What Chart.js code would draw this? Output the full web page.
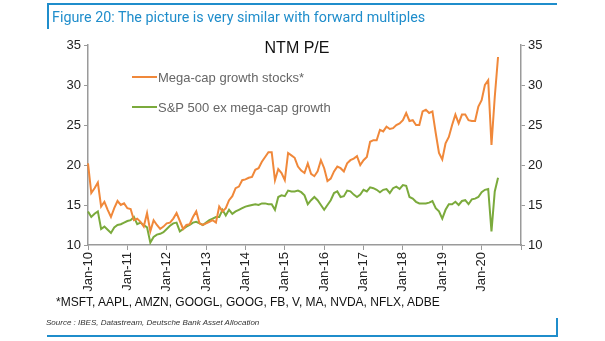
<!DOCTYPE html>
<html>
<head>
<meta charset="utf-8">
<script src="https://cdn.jsdelivr.net/npm/chart.js@4.4.1/dist/chart.umd.min.js"></script>
<style>
  html, body { margin:0; padding:0; background:#fff; width:605px; height:341px; overflow:hidden; }
  #wrap { position:relative; width:605px; height:341px; }
  canvas { position:absolute; left:0; top:0; }
  .bl { position:absolute; background:#1f8dcb; }
  .txt { position:absolute; white-space:nowrap; }
  #ftitle { left:52px; top:9px; font:14.3px Roboto, "Liberation Sans", sans-serif; color:#1f8dcb; }
  #foot { left:56px; top:295px; font:12px "Liberation Sans", Arial, sans-serif; color:#111; }
  #src { left:46px; top:318px; font:italic 8px "Liberation Sans", Arial, sans-serif; color:#333; }
</style>
</head>
<body>
<div id="wrap">
  <canvas id="c" width="605" height="341"></canvas>
  <div class="bl" style="left:47px;top:3px;width:510px;height:2px"></div>
  <div class="bl" style="left:47px;top:3px;width:2px;height:26px"></div>
  <div class="bl" style="left:47px;top:335px;width:511px;height:2px"></div>
  <div class="bl" style="left:556px;top:318px;width:2px;height:19px"></div>
  <div class="txt" id="ftitle">Figure 20: The picture is very similar with forward multiples</div>
  <div class="txt" id="foot">*MSFT, AAPL, AMZN, GOOGL, GOOG, FB, V, MA, NVDA, NFLX, ADBE</div>
  <div class="txt" id="src">Source : IBES, Datastream, Deutsche Bank Asset Allocation</div>
</div>
<script>
// Monthly categories Jan-10 .. Jan-21
const monthNames = ["Jan","Feb","Mar","Apr","May","Jun","Jul","Aug","Sep","Oct","Nov","Dec"];
const years = [10,11,12,13,14,15,16,17,18,19,20,21];
const categories = [];
years.forEach(y => monthNames.forEach(m => { if (y < 21 || m === "Jan") categories.push(m + "-" + y); }));

const chartTitle = "NTM P/E";
const seriesNames = ["Mega-cap growth stocks*", "S&P 500 ex mega-cap growth"];

const megaCap = [
  20.2, 16.5, 17.1, 17.8, 14.8, 15.4, 14.4, 13.5, 14.6, 15.5, 15.0, 15.2,
  14.6, 14.5, 13.1, 13.3, 12.9, 12.3, 14.0, 11.7, 13.1, 12.5, 12.0, 12.3,
  12.7, 12.8, 13.3, 14.0, 13.0, 12.0, 12.5, 12.6, 13.5, 14.2, 12.7, 12.5,
  12.7, 12.9, 13.1, 12.8, 14.8, 14.2, 14.6, 15.6, 16.1, 17.1, 17.3, 18.1,
  18.2, 18.4, 18.5, 19.4, 19.6, 20.4, 21.0, 21.6, 21.6, 18.1, 19.5, 19.0,
  18.1, 21.5, 21.2, 20.9, 19.8, 19.3, 19.0, 20.2, 18.9, 18.6, 19.2, 20.6,
  19.6, 18.0, 18.3, 19.2, 19.8, 19.6, 19.2, 20.2, 20.6, 20.8, 21.1, 20.0,
  20.6, 21.0, 22.9, 23.1, 23.1, 24.4, 24.2, 24.8, 24.5, 24.6, 25.0, 25.2,
  25.6, 26.5, 25.5, 25.6, 25.0, 25.0, 26.7, 26.9, 26.5, 26.7, 24.0, 21.5,
  20.7, 22.7, 23.5, 25.0, 26.3, 25.2, 26.3, 26.3, 25.6, 25.5, 25.5, 27.3,
  28.1, 30.0, 30.6, 22.5, 28.5, 33.5
];
const spxEx = [
  14.2, 13.5, 13.9, 14.2, 12.0, 12.3, 11.9, 11.5, 12.2, 12.5, 12.6, 12.8,
  13.0, 13.1, 13.5, 12.6, 12.8, 12.5, 12.2, 10.3, 11.0, 11.3, 11.4, 11.6,
  12.0, 12.4, 12.7, 12.8, 11.7, 12.0, 12.3, 12.5, 12.8, 12.9, 12.7, 12.5,
  12.8, 13.1, 13.3, 13.5, 13.5, 14.4, 13.7, 14.4, 13.9, 14.2, 14.4, 14.6,
  14.8, 14.9, 15.0, 15.1, 15.0, 15.2, 15.2, 15.1, 15.1, 14.4, 16.0, 16.2,
  16.1, 16.8, 16.7, 16.7, 16.8, 16.6, 16.2, 15.1, 15.6, 16.0, 15.6, 15.0,
  14.4, 15.0, 15.6, 16.5, 16.7, 16.0, 16.1, 16.8, 16.7, 16.3, 16.0, 16.3,
  16.9, 16.7, 17.2, 17.1, 16.9, 16.6, 16.9, 17.0, 16.5, 17.1, 17.3, 17.0,
  17.5, 17.4, 16.0, 15.8, 15.4, 15.2, 15.2, 15.2, 15.3, 15.5, 14.6, 14.2,
  13.3, 14.4, 15.1, 15.1, 15.4, 15.0, 15.5, 15.6, 15.1, 15.7, 15.8, 16.0,
  16.6, 16.9, 17.0, 11.7, 16.7, 18.4
];
const yTicks = [10, 15, 20, 25, 30, 35];

const ORANGE = "#F0883A";
const GREEN = "#7BAA3C";
const AXIS = "#9a9a9a";
const FONT = "'Liberation Sans', Arial, sans-serif";

const overlay = {
  id: "overlay",
  afterDraw(chart) {
    const ctx = chart.ctx;
    const a = chart.chartArea;
    ctx.save();
    ctx.fillStyle = "#111";
    ctx.font = "16px " + FONT;
    ctx.textAlign = "center";
    ctx.textBaseline = "middle";
    ctx.fillText(chartTitle, 297, a.top + 4);
    const items = [[seriesNames[0], ORANGE, a.top + 32], [seriesNames[1], GREEN, a.top + 62]];
    ctx.font = "13px " + FONT;
    ctx.textAlign = "left";
    items.forEach(([t, col, y]) => {
      ctx.strokeStyle = col; ctx.lineWidth = 2;
      ctx.beginPath(); ctx.moveTo(132, y); ctx.lineTo(157, y); ctx.stroke();
      ctx.fillStyle = "#666";
      ctx.fillText(t, 158, y + 1);
    });
    ctx.restore();
  }
};

const yScale = (pos, w) => ({
  position: pos, min: 10, max: 35,
  afterBuildTicks: s => { s.ticks = yTicks.map(v => ({ value: v })); },
  afterFit: s => { s.width = w; },
  ticks: { color: "#222", font: { family: FONT, size: 13 }, padding: 3 },
  grid: { drawOnChartArea: false, tickLength: 4, color: AXIS },
  border: { color: AXIS, width: 1.5 }
});

new Chart(document.getElementById("c"), {
  type: "line",
  data: {
    labels: categories,
    datasets: [
      { label: seriesNames[0], data: megaCap, borderColor: ORANGE, borderWidth: 2, pointRadius: 0, tension: 0, yAxisID: "y" },
      { label: seriesNames[1], data: spxEx, borderColor: GREEN, borderWidth: 2, pointRadius: 0, tension: 0, yAxisID: "y" }
    ]
  },
  options: {
    responsive: false, animation: false, devicePixelRatio: 1,
    layout: { padding: { left: 40, right: 40, top: 45, bottom: 46 } },
    plugins: { legend: { display: false }, tooltip: { enabled: false } },
    scales: {
      x: {
        afterFit: s => { s.height = 50; },
        ticks: {
          autoSkip: false, maxRotation: 90, minRotation: 90, padding: 2,
          color: "#222", font: { family: FONT, size: 13 },
          callback: function (v) {
            const l = this.getLabelForValue(v);
            if (!l.startsWith("Jan")) return null;
            return l === "Jan-21" ? "" : l;
          }
        },
        grid: { drawOnChartArea: false, tickLength: 5, color: AXIS },
        border: { color: AXIS, width: 1.5 }
      },
      y: yScale("left", 48),
      y2: Object.assign(yScale("right", 44), { display: true })
    }
  },
  plugins: [overlay]
});
</script>
</body>
</html>
